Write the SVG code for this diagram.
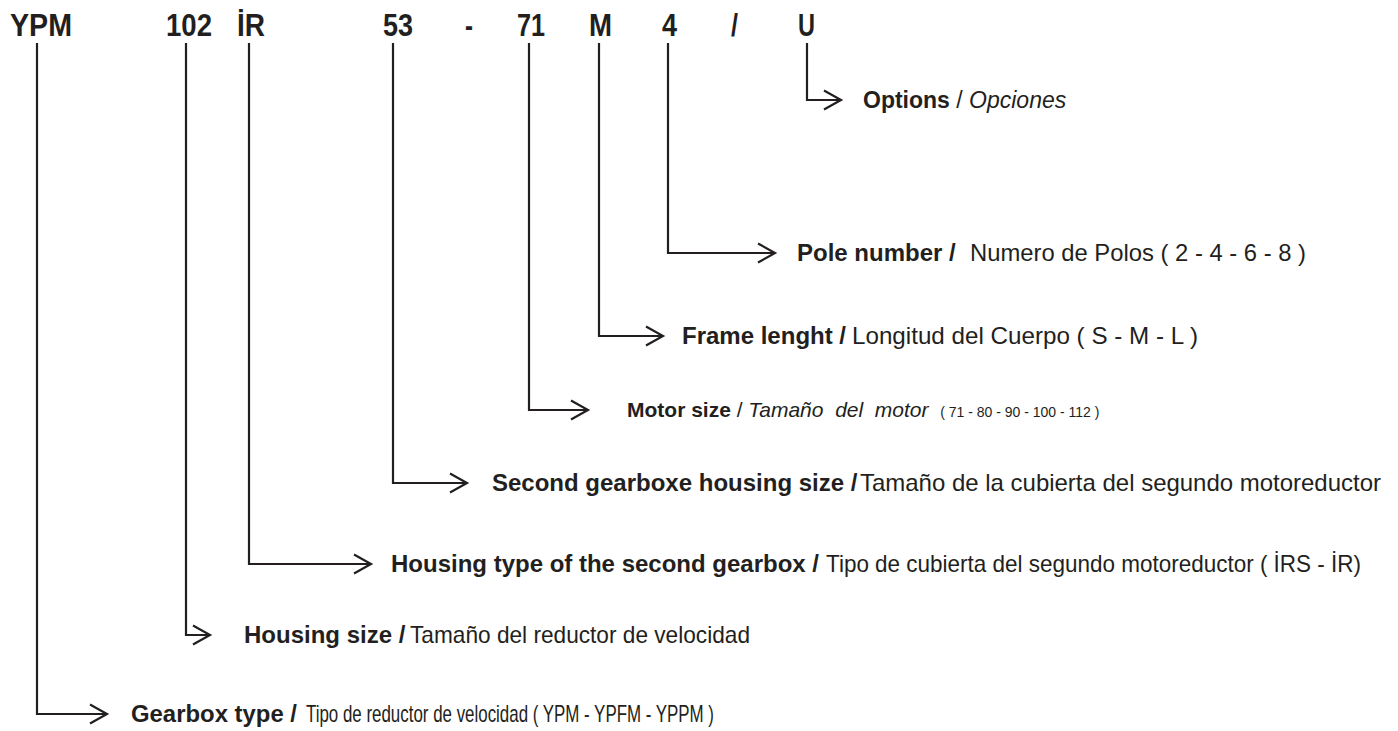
<svg xmlns="http://www.w3.org/2000/svg" width="1398" height="731" viewBox="0 0 1398 731">
<defs>
<style>
text{font-family:"Liberation Sans",Arial,Helvetica,sans-serif;fill:#231f20}
.code{font-size:32px;font-weight:bold}
.b{font-size:24px;font-weight:bold}
.r{font-size:24px}
.bw{font-weight:bold}
.i{font-style:italic}
.ln{fill:none;stroke:#231f20;stroke-width:2.2}
</style>
<marker id="arr" markerUnits="userSpaceOnUse" markerWidth="22" markerHeight="24" viewBox="0 0 22 24" refX="19" refY="12" orient="auto">
<path d="M2,2.5 L19,12 L2,21.5" fill="none" stroke="#231f20" stroke-width="2.2"/>
</marker>
</defs>
<rect width="1398" height="731" fill="#ffffff"/>
<g id="code">
<text class="code" x="10" y="36" textLength="62" lengthAdjust="spacingAndGlyphs">YPM</text>
<text class="code" x="166" y="36" textLength="46" lengthAdjust="spacingAndGlyphs">102</text>
<text class="code" x="237" y="36" textLength="28" lengthAdjust="spacingAndGlyphs">İR</text>
<text class="code" x="383" y="36" textLength="30" lengthAdjust="spacingAndGlyphs">53</text>
<text class="code" x="465" y="36" textLength="8" lengthAdjust="spacingAndGlyphs">-</text>
<text class="code" x="517" y="36" textLength="28" lengthAdjust="spacingAndGlyphs">71</text>
<text class="code" x="589" y="36" textLength="23" lengthAdjust="spacingAndGlyphs">M</text>
<text class="code" x="662" y="36" textLength="15" lengthAdjust="spacingAndGlyphs">4</text>
<text class="code" x="731" y="36" textLength="7" lengthAdjust="spacingAndGlyphs">/</text>
<text class="code" x="798" y="36" textLength="17" lengthAdjust="spacingAndGlyphs">U</text>
</g>
<g id="connectors">
<path class="ln" d="M807,43 V100 H841" marker-end="url(#arr)"/>
<path class="ln" d="M668,43 V253 H775" marker-end="url(#arr)"/>
<path class="ln" d="M599,43 V336 H663" marker-end="url(#arr)"/>
<path class="ln" d="M529,43 V410 H588" marker-end="url(#arr)"/>
<path class="ln" d="M393,43 V483 H467" marker-end="url(#arr)"/>
<path class="ln" d="M249,43 V564 H371" marker-end="url(#arr)"/>
<path class="ln" d="M186,43 V635 H210" marker-end="url(#arr)"/>
<path class="ln" d="M37,43 V714 H107" marker-end="url(#arr)"/>
</g>
<g id="options">
<text x="863" y="108" style="font-size:23px"><tspan class="bw">Options</tspan> / <tspan class="i">Opciones</tspan></text>
</g>
<g id="pole-number">
<text class="b" x="797" y="261">Pole number /</text>
<text class="r" x="970" y="261" textLength="336" lengthAdjust="spacingAndGlyphs">Numero de Polos ( 2 - 4 - 6 - 8 )</text>
</g>
<g id="frame-length">
<text class="b" x="682" y="344">Frame lenght /</text>
<text class="r" x="852" y="344" textLength="346" lengthAdjust="spacingAndGlyphs">Longitud del Cuerpo ( S - M - L )</text>
</g>
<g id="motor-size">
<text x="627" y="417" style="font-size:21px" xml:space="preserve"><tspan class="bw">Motor size</tspan> / <tspan class="i">Tamaño  del  motor</tspan>  <tspan style="font-size:14px">( 71 - 80 - 90 - 100 - 112 )</tspan></text>
</g>
<g id="second-housing-size">
<text class="b" x="492" y="491">Second gearboxe housing size /</text>
<text class="r" x="860" y="491" textLength="521" lengthAdjust="spacingAndGlyphs">Tamaño de la cubierta del segundo motoreductor</text>
</g>
<g id="second-housing-type">
<text class="b" x="391" y="572" textLength="428" lengthAdjust="spacingAndGlyphs">Housing type of the second gearbox /</text>
<text class="r" x="826" y="572" textLength="535" lengthAdjust="spacingAndGlyphs">Tipo de cubierta del segundo motoreductor ( İRS - İR)</text>
</g>
<g id="housing-size">
<text class="b" x="244" y="643">Housing size /</text>
<text class="r" x="410" y="643" textLength="340" lengthAdjust="spacingAndGlyphs">Tamaño del reductor de velocidad</text>
</g>
<g id="gearbox-type">
<text class="b" x="131" y="722" textLength="166" lengthAdjust="spacingAndGlyphs">Gearbox type /</text>
<text class="r" x="306" y="722" textLength="408" lengthAdjust="spacingAndGlyphs">Tipo de reductor de velocidad ( YPM - YPFM - YPPM )</text>
</g>
</svg>
